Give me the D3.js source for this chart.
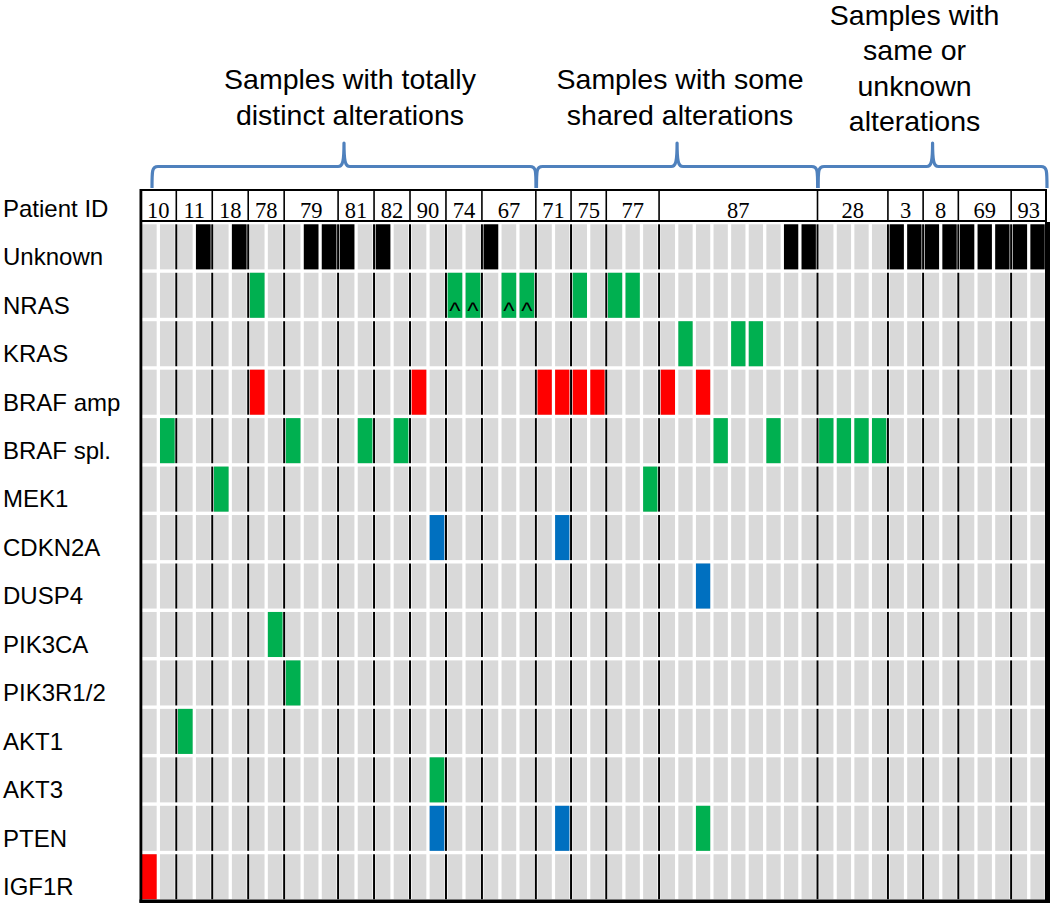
<!DOCTYPE html>
<html><head><meta charset="utf-8">
<script src="https://cdn.jsdelivr.net/npm/d3@7"></script>
<style>html,body{margin:0;padding:0;background:#fff;} svg{display:block}</style>
</head><body>
<svg id="chart" width="1050" height="903"></svg>
<script>
// ---------------- DATA ----------------
const genes = ["Unknown","NRAS","KRAS","BRAF amp","BRAF spl.","MEK1","CDKN2A","DUSP4","PIK3CA","PIK3R1/2","AKT1","AKT3","PTEN","IGF1R"];
const patientIds = ["10","11","18","78","79","81","82","90","74","67","71","75","77","87","28","3","8","69","93"];
const samplesPerPatient = [2,2,2,2,3,2,2,2,2,3,2,2,3,9,4,2,2,3,2];
const groupTitles = [
  ["Samples with totally","distinct alterations"],
  ["Samples with some","shared alterations"],
  ["Samples with","same or","unknown","alterations"]
];
const patientsPerGroup = [10, 4, 5];

// altered samples (0-based sample column) per gene
const unknownSamples   = [3,5,9,10,11,13,19,36,37,42,43,44,45,46,47,48,49,50];
const nrasSamples      = [6,17,18,20,21,24,26,27];
const nrasCaretSamples = [17,18,20,21];
const krasSamples      = [30,33,34];
const brafAmpSamples   = [6,15,22,23,24,25,29,31];
const brafSplSamples   = [1,8,12,14,32,35,38,39,40,41];
const mek1Samples      = [4,28];
const cdkn2aSamples    = [16,23];
const dusp4Samples     = [31];
const pik3caSamples    = [7];
const pik3r12Samples   = [8];
const akt1Samples      = [2];
const akt3Samples      = [16];
const ptenLossSamples  = [16,23];
const ptenMutSamples   = [31];
const igf1rSamples     = [0];

// ---------------- BUILD ----------------
const alterations = [];
function add(gene, list, type){ list.forEach(s => alterations.push({gene, sample:s, type})); }
add("Unknown", unknownSamples, "unknown");
add("NRAS", nrasSamples, "green");
add("KRAS", krasSamples, "green");
add("BRAF amp", brafAmpSamples, "red");
add("BRAF spl.", brafSplSamples, "green");
add("MEK1", mek1Samples, "green");
add("CDKN2A", cdkn2aSamples, "blue");
add("DUSP4", dusp4Samples, "blue");
add("PIK3CA", pik3caSamples, "green");
add("PIK3R1/2", pik3r12Samples, "green");
add("AKT1", akt1Samples, "green");
add("AKT3", akt3Samples, "green");
add("PTEN", ptenLossSamples, "blue");
add("PTEN", ptenMutSamples, "green");
add("IGF1R", igf1rSamples, "red");

const colors = {unknown:"#000000", green:"#00B050", red:"#FF0000", blue:"#0070C0"};
const nSamples = d3.sum(samplesPerPatient);
const bounds = [0];
samplesPerPatient.forEach(n => bounds.push(bounds[bounds.length-1] + n));
const group1End = bounds[patientsPerGroup[0]];

const svg = d3.select("#chart");
const x = d3.scaleLinear().domain([0, group1End, nSamples]).range([142, 537.5, 1048]);
const y = d3.scaleBand().domain(genes).range([224.3, 902.7]);
const gap = 3.3;
const cellH = y.bandwidth() - 3.4;
const samples = d3.range(nSamples);

// background cells
const grid = svg.append("g");
genes.forEach(g => {
  grid.selectAll(null).data(samples).join("rect")
    .attr("x", s => x(s)).attr("y", y(g))
    .attr("width", s => x(s+1) - x(s) - gap).attr("height", cellH)
    .attr("fill", "#D9D9D9");
});
// altered cells
grid.selectAll(null).data(alterations).join("rect")
  .attr("x", d => x(d.sample)).attr("y", d => y(d.gene))
  .attr("width", d => x(d.sample+1) - x(d.sample) - gap).attr("height", cellH)
  .attr("fill", d => colors[d.type]);

// carets on NRAS
grid.selectAll(null).data(nrasCaretSamples).join("text")
  .attr("x", s => (x(s) + x(s+1) - gap)/2)
  .attr("y", y("NRAS") + cellH + 1)
  .attr("text-anchor","middle")
  .attr("font-family","'Liberation Sans', Arial, sans-serif")
  .attr("font-size", 24)
  .text("^");

// patient boundary lines in each row
const inner = bounds.slice(1, -1);
genes.forEach(g => {
  grid.selectAll(null).data(inner).join("rect")
    .attr("x", b => x(b) - gap/2 - 1).attr("y", y(g))
    .attr("width", 2).attr("height", cellH)
    .attr("fill", "#000");
});

// frame
svg.append("rect").attr("x", 139.5).attr("y", 189).attr("width", 2.8).attr("height", 713.7).attr("fill","#000");
svg.append("rect").attr("x", 1045).attr("y", 222).attr("width", 5).attr("height", 681).attr("fill","#000");
svg.append("rect").attr("x", 139.5).attr("y", 899.5).attr("width", 910.5).attr("height", 3.5).attr("fill","#000");

// header box
const hdrTop = 190, hdrBot = 221;
svg.append("rect").attr("x", 141).attr("y", hdrTop).attr("width", 1046 - 141).attr("height", hdrBot - hdrTop)
  .attr("fill","none").attr("stroke","#000").attr("stroke-width",2);
svg.selectAll(null).data(inner).join("line")
  .attr("x1", b => x(b) - gap/2).attr("x2", b => x(b) - gap/2)
  .attr("y1", hdrTop).attr("y2", hdrBot)
  .attr("stroke","#000").attr("stroke-width",1.6);
svg.selectAll(null).data(patientIds).join("text")
  .attr("x", (p,i) => (x(bounds[i]) + x(bounds[i+1]) - gap)/2)
  .attr("y", 218)
  .attr("text-anchor","middle")
  .attr("font-family","'Liberation Serif','Times New Roman',serif")
  .attr("font-size", 22.5)
  .text(p => p);

// row labels
const labelFont = "'Liberation Sans', Arial, sans-serif";
svg.append("text").attr("x", 3).attr("y", 216.5).attr("font-family", labelFont).attr("font-size", 24).text("Patient ID");
svg.selectAll(null).data(genes).join("text")
  .attr("x", 3).attr("y", g => y(g) + cellH/2 + 18.3)
  .attr("font-family", labelFont).attr("font-size", 24)
  .text(g => g);

// braces
const gStart = [0, patientsPerGroup[0], patientsPerGroup[0]+patientsPerGroup[1]];
const gEnd = [patientsPerGroup[0], patientsPerGroup[0]+patientsPerGroup[1], patientIds.length];
const braceExt = gStart.map((s,i) => {
  const a = i === 0 ? x(bounds[s]) + 10 : x(bounds[s]) - 1;
  const b = i === 2 ? 1047 : x(bounds[gEnd[i]]) - 1.5;
  return [a, b];
});
const yb = 188, yh = 166.5, yt = 143;
function bracePath([a, b]) {
  const m = (a + b) / 2, r = 6;
  return `M${a},${yb} C${a},${yh+4} ${a},${yh} ${a+r},${yh} L${m-r},${yh} C${m-1},${yh} ${m},${yh-6} ${m},${yt} ` +
         `C${m},${yh-6} ${m+1},${yh} ${m+r},${yh} L${b-r},${yh} C${b},${yh} ${b},${yh+4} ${b},${yb}`;
}
svg.selectAll(null).data(braceExt).join("path")
  .attr("d", bracePath)
  .attr("fill","none").attr("stroke","#4F81BD").attr("stroke-width",3.2)
  .attr("stroke-linejoin","round");

// group titles
const titleOffset = [6, 3, -18];
const titleFirstBaseline = [89, 89, 24.5];
const lineH = 35.5;
groupTitles.forEach((lines, i) => {
  const cx = (braceExt[i][0] + braceExt[i][1]) / 2 + titleOffset[i];
  svg.selectAll(null).data(lines).join("text")
    .attr("x", cx).attr("y", (l, j) => titleFirstBaseline[i] + j * lineH)
    .attr("text-anchor","middle")
    .attr("font-family", labelFont).attr("font-size", 28.5)
    .text(l => l);
});
</script>
</body></html>
